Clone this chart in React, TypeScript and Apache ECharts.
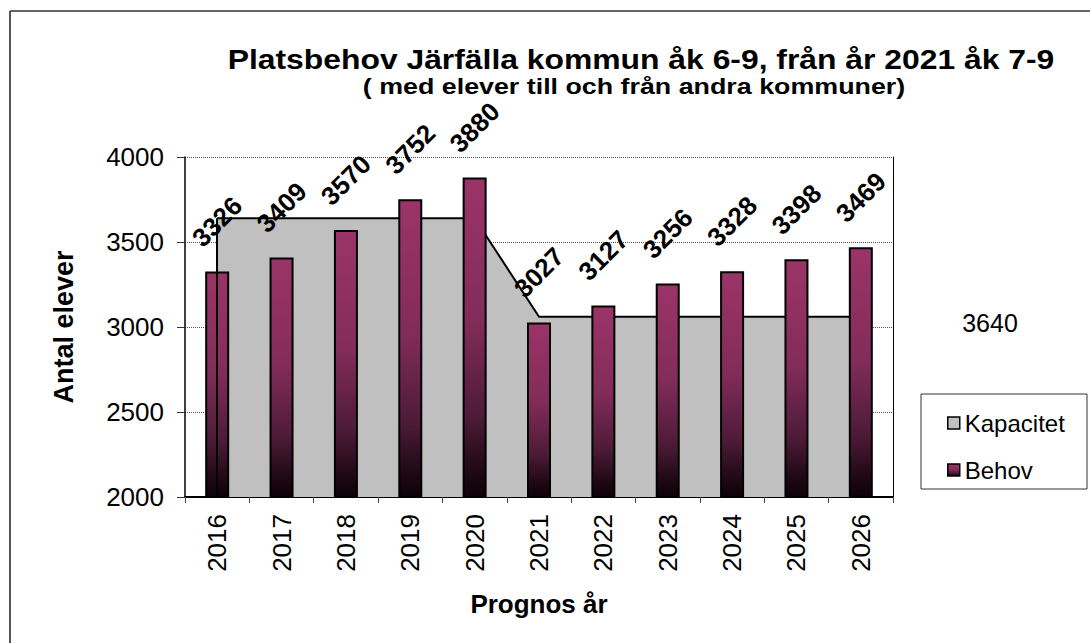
import React, { useEffect, useRef } from "react";
import * as echarts from "echarts";

const YEARS = ["2016", "2017", "2018", "2019", "2020", "2021", "2022", "2023", "2024", "2025", "2026"];
const BEHOV = [3326, 3409, 3570, 3752, 3880, 3027, 3127, 3256, 3328, 3398, 3469];
const KAPACITET = [3640, 3640, 3640, 3640, 3640, 3060, 3060, 3060, 3060, 3060, 3060];
const Y_MIN = 2000;
const Y_MAX = 4000;
const Y_STEP = 500;
const SIDE_NOTE = "3640";
const TITLE = "Platsbehov Järfälla kommun åk 6-9, från år 2021 åk 7-9";
const SUBTITLE = "( med elever till och från andra kommuner)";

const FONT = 'Arial, "Liberation Sans", sans-serif';

export default function App() {
  const ref = useRef<HTMLDivElement>(null);

  useEffect(() => {
    if (!ref.current) return;
    const chart = echarts.init(ref.current, null, { renderer: "svg" });

    const barGradient = new echarts.graphic.LinearGradient(0, 0, 0, 1, [
      { offset: 0, color: "#9b3468" },
      { offset: 0.45, color: "#822c59" },
      { offset: 0.75, color: "#4d1b37" },
      { offset: 0.93, color: "#1c0712" },
      { offset: 1, color: "#0d0208" },
    ]);

    const legendText = { fontSize: 24, color: "#000", fontFamily: FONT };

    chart.setOption({
      animation: false,
      backgroundColor: "#ffffff",
      textStyle: { fontFamily: FONT },
      grid: { left: 185, right: 197, top: 157, bottom: 146 },
      legend: [
        {
          orient: "vertical",
          left: 942,
          top: 406,
          itemWidth: 12,
          itemHeight: 12,
          textStyle: legendText,
          data: [
            {
              name: "Kapacitet",
              icon: "rect",
              itemStyle: { color: "#c0c0c0", borderColor: "#000", borderWidth: 1.5 },
            },
          ],
        },
        {
          orient: "vertical",
          left: 942,
          top: 453,
          itemWidth: 12,
          itemHeight: 12,
          textStyle: legendText,
          data: [
            {
              name: "Behov",
              icon: "rect",
              itemStyle: { color: barGradient, borderColor: "#000", borderWidth: 1.5 },
            },
          ],
        },
      ],
      xAxis: {
        type: "category",
        data: YEARS,
        boundaryGap: true,
        name: "Prognos år",
        nameLocation: "middle",
        nameGap: 94,
        nameTextStyle: { fontSize: 26, fontWeight: "bold", color: "#000", fontFamily: FONT },
        axisLine: { show: true, lineStyle: { color: "#000", width: 2 } },
        axisTick: { show: true, length: 6, lineStyle: { color: "#444", width: 1 } },
        axisLabel: {
          rotate: 90,
          margin: 17,
          fontSize: 26,
          color: "#000",
          fontFamily: FONT,
        },
      },
      yAxis: [
        {
          type: "value",
          min: Y_MIN,
          max: Y_MAX,
          interval: Y_STEP,
          name: "Antal elever",
          nameLocation: "middle",
          nameGap: 108,
          nameTextStyle: { fontSize: 27, fontWeight: "bold", color: "#000", fontFamily: FONT },
          axisLine: { show: true, lineStyle: { color: "#000", width: 1.5 } },
          axisTick: { show: true, length: 8, lineStyle: { color: "#333", width: 1 } },
          axisLabel: {
            margin: 21,
            fontSize: 26,
            color: "#000",
            fontFamily: FONT,
            formatter: (v: number) => String(v),
          },
          splitLine: { show: true, lineStyle: { color: "#555", type: "dotted", width: 1 } },
        },
        {
          type: "value",
          min: Y_MIN,
          max: Y_MAX,
          interval: Y_STEP,
          position: "right",
          axisLine: { show: true, lineStyle: { color: "#000", width: 1 } },
          axisTick: { show: false },
          axisLabel: { show: false },
          splitLine: { show: false },
        },
      ],
      series: [
        {
          name: "Kapacitet",
          type: "line",
          data: KAPACITET,
          symbol: "none",
          lineStyle: { color: "#000", width: 2 },
          itemStyle: { color: "#c0c0c0", borderColor: "#000" },
          areaStyle: { color: "#c0c0c0", opacity: 1, origin: "start" },
          markLine: {
            silent: true,
            symbol: ["none", "none"],
            label: { show: false },
            lineStyle: { color: "#000", width: 2, type: "solid" },
            data: [[{ coord: [YEARS[0], Y_MIN] }, { coord: [YEARS[0], KAPACITET[0]] }]],
          },
          z: 1,
        },
        {
          name: "Behov",
          type: "bar",
          data: BEHOV,
          barWidth: 24,
          itemStyle: { color: barGradient, borderColor: "#000", borderWidth: 2 },
          label: {
            show: true,
            position: "top",
            distance: 50,
            rotate: 45,
            align: "center",
            verticalAlign: "middle",
            fontSize: 26,
            fontWeight: "bold",
            color: "#000",
            fontFamily: FONT,
          },
          z: 3,
        },
      ],
      graphic: [
        {
          type: "line",
          shape: { x1: 10, y1: 11, x2: 10, y2: 643 },
          style: { stroke: "#555", lineWidth: 2 },
        },
        {
          type: "line",
          shape: { x1: 10, y1: 11, x2: 1090, y2: 11 },
          style: { stroke: "#333", lineWidth: 1.5 },
        },
        {
          type: "text",
          x: 641,
          y: 59,
          scaleX: 1.18,
          style: {
            text: TITLE,
            fontSize: 27,
            fontWeight: "bold",
            fontFamily: FONT,
            fill: "#000",
            textAlign: "center",
            textVerticalAlign: "middle",
          },
        },
        {
          type: "text",
          x: 634,
          y: 86,
          scaleX: 1.22,
          style: {
            text: SUBTITLE,
            fontSize: 22,
            fontWeight: "bold",
            fontFamily: FONT,
            fill: "#000",
            textAlign: "center",
            textVerticalAlign: "middle",
          },
        },
        {
          type: "text",
          x: 990,
          y: 323,
          style: {
            text: SIDE_NOTE,
            fontSize: 25,
            fontFamily: FONT,
            fill: "#000",
            textAlign: "center",
            textVerticalAlign: "middle",
          },
        },
        {
          type: "rect",
          shape: { x: 921, y: 394, width: 166, height: 95 },
          style: { fill: "none", stroke: "#333", lineWidth: 1 },
          z: -1,
        },
      ],
    });

    return () => chart.dispose();
  }, []);

  return (
    <div
      ref={ref}
      style={{ position: "absolute", left: 0, top: 0, width: 1090, height: 643 }}
    />
  );
}
